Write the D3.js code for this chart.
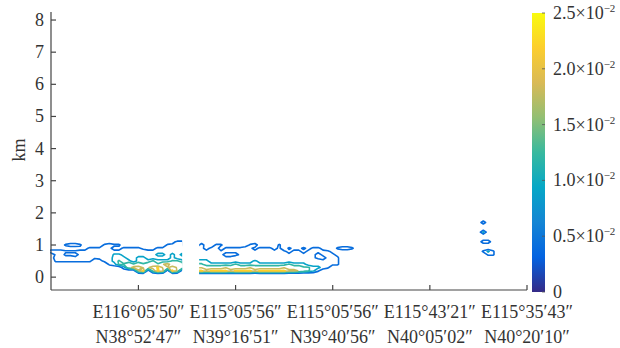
<!DOCTYPE html>
<html>
<head>
<meta charset="utf-8">
<script src="https://cdn.jsdelivr.net/npm/d3@7"></script>
<style>
    body { margin: 0; background: #fff; }
    text { font-family: "Liberation Serif", "Times New Roman", serif; fill: #333; }
</style>
</head>
<body>
<svg id="chart" width="620" height="348"></svg>
<script>
// grid rows go up from 0 km in steps of 0.1 km (first string = 0 km)
// each digit is one grid cell, in units of 0.25x10^-2
const rowStepKm = 0.1;
const cellUnit = 0.0025;

// columns 0-27
const westProfile = [
    "0000000000 0000000000 00000000",
    "0000000000 0000000000 00000000",
    "0000000000 0000000079 06980970",
    "0000000000 0000036887 78977877",
    "0000000000 0023556565 66578666",
    "0222222220 1234544344 45444554",
    "0333322222 2234443344 33333433",
    "0231112222 2224433233 33443434",
    "3332222222 2222222223 22333333",
    "0000001122 2221122221 11222223",
    "0002332000 0232200000 00002222",
    "0000000000 0000000000 00000122"
];

// columns 30-63
const eastProfile = [
    "0000000000 0000000000 0000000000 0000",
    "0000000000 0000000000 0000000000 0000",
    "9989999899 9989999998 8765420000 0000",
    "7766667666 6766666676 6655443200 0000",
    "5544444454 4444444445 4443333322 0000",
    "4443333333 3343333333 3333332222 0000",
    "3332222232 3222222222 2222211222 0000",
    "2222221112 2222222222 2222212221 0000",
    "2222222222 2222222221 2212222210 0000",
    "2212302222 3212221202 1121221002 3320",
    "0300220000 0230000200 0000000000 0000"
];

// columns 88-91
const farProfile = [
    "0000", "0000", "0000", "0000", "0000", "0000", "0000",
    "0022", "0242", "0000", "0000", "0330", "0000", "0000",
    "0400", "0000", "0000", "0300"
];

const blockStart = [0, 30, 88];
// visible column span of each block (lines stop at the data edge)
const blockClip = [[-0.2, 27], [30.5, 63], [87, 92]];
const nCols = 99;
const nRows = 19;

const levels = [0.004, 0.009, 0.012, 0.018, 0.022];

const yTicks = [0, 1, 2, 3, 4, 5, 6, 7, 8];
const xTickCols = [18, 38, 58, 78, 98];
const xTickLon = ["E116°05′50″", "E115°05′56″", "E115°05′56″", "E115°43′21″", "E115°35′43″"];
const xTickLat = ["N38°52′47″", "N39°16′51″", "N39°40′56″", "N40°05′02″", "N40°20′10″"];

const cbTicks = [0, 0.005, 0.01, 0.015, 0.02, 0.025];
const cbLabels = ["0", "0.5", "1.0", "1.5", "2.0", "2.5"];

// parula-like colour map
const parula = ["#352a87", "#0363e1", "#1485d4", "#06a7c6", "#38b99e", "#92bf73", "#d9ba56", "#fcce2e", "#f9fb0e"];
const cMax = 0.025;
const color = d3.scaleLinear()
    .domain(parula.map((c, i) => i * cMax / (parula.length - 1)))
    .range(parula);

const svg = d3.select("#chart");
const defs = svg.append("defs");
const axisColor = "#444";

const x = d3.scaleLinear().domain([0, 98]).range([51, 527]);
const y = d3.scaleLinear().domain([-0.4, 8.25]).range([290, 12]);

// build the value grid
const values = new Array(nCols * nRows).fill(0);
[westProfile, eastProfile, farProfile].forEach(function (block, b) {
    block.forEach(function (row, r) {
        row.replace(/ /g, "").split("").forEach(function (ch, c) {
            values[(blockStart[b] + c) + r * nCols] = +ch * cellUnit;
        });
    });
});

const contours = d3.contours()
    .size([nCols, nRows])
    .thresholds(levels)(values);

// grid coords -> pixels (cell i sits at i + 0.5)
const proj = d3.geoTransform({
    point: function (gx, gy) {
        this.stream.point(x(gx - 0.5), y((gy - 0.5) * rowStepKm));
    }
});
const path = d3.geoPath(proj);

blockClip.forEach(function (span, b) {
    defs.append("clipPath")
        .attr("id", "clip" + b)
        .append("rect")
        .attr("x", x(span[0])).attr("y", 0)
        .attr("width", x(span[1]) - x(span[0])).attr("height", 348);

    svg.append("g")
        .attr("clip-path", "url(#clip" + b + ")")
        .selectAll("path")
        .data(contours)
        .enter().append("path")
        .attr("d", path)
        .attr("fill", "none")
        .attr("stroke", d => color(d.value))
        .attr("stroke-width", 1.6)
        .attr("stroke-linejoin", "round");
});

// axes
const axes = svg.append("g");
axes.append("line")
    .attr("x1", x(0)).attr("x2", x(0))
    .attr("y1", y.range()[1]).attr("y2", y.range()[0])
    .attr("stroke", axisColor).attr("stroke-width", 1.2);
axes.append("line")
    .attr("x1", x(0)).attr("x2", x(98))
    .attr("y1", y.range()[0]).attr("y2", y.range()[0])
    .attr("stroke", axisColor).attr("stroke-width", 1.2);

yTicks.forEach(function (t) {
    axes.append("line")
        .attr("x1", x(0)).attr("x2", x(0) + 5)
        .attr("y1", y(t)).attr("y2", y(t))
        .attr("stroke", axisColor).attr("stroke-width", 1.2);
    axes.append("text")
        .attr("x", 44).attr("y", y(t) + 6)
        .attr("text-anchor", "end")
        .style("font-size", "18px")
        .text(t);
});

xTickCols.forEach(function (c, i) {
    axes.append("line")
        .attr("x1", x(c)).attr("x2", x(c))
        .attr("y1", y.range()[0]).attr("y2", y.range()[0] - 5)
        .attr("stroke", axisColor).attr("stroke-width", 1.2);
    axes.append("text")
        .attr("x", x(c)).attr("y", 318)
        .attr("text-anchor", "middle")
        .style("font-size", "18px")
        .text(xTickLon[i]);
    axes.append("text")
        .attr("x", x(c)).attr("y", 343)
        .attr("text-anchor", "middle")
        .style("font-size", "18px")
        .text(xTickLat[i]);
});

axes.append("text")
    .attr("transform", "translate(25,150) rotate(-90)")
    .attr("text-anchor", "middle")
    .style("font-size", "18px")
    .text("km");

// colour bar
const cb = d3.scaleLinear().domain([0, cMax]).range([292, 13]);
const grad = defs.append("linearGradient")
    .attr("id", "cbgrad")
    .attr("x1", 0).attr("y1", 1).attr("x2", 0).attr("y2", 0);
parula.forEach(function (c, i) {
    grad.append("stop")
        .attr("offset", i / (parula.length - 1))
        .attr("stop-color", c);
});
svg.append("rect")
    .attr("x", 532).attr("y", cb(cMax))
    .attr("width", 13).attr("height", cb(0) - cb(cMax))
    .attr("fill", "url(#cbgrad)");

cbTicks.forEach(function (t, i) {
    svg.append("line")
        .attr("x1", 545).attr("x2", 542)
        .attr("y1", cb(t)).attr("y2", cb(t))
        .attr("stroke", "#555").attr("stroke-width", 0.8);
    const lab = svg.append("text")
        .attr("x", 553).attr("y", cb(t) + 6)
        .style("font-size", "18px")
        .text(cbLabels[i]);
    if (t > 0) {
        lab.append("tspan").text("×10");
        lab.append("tspan")
            .attr("dy", -7)
            .style("font-size", "11px")
            .text("−2");
    }
});
</script>
</body>
</html>
